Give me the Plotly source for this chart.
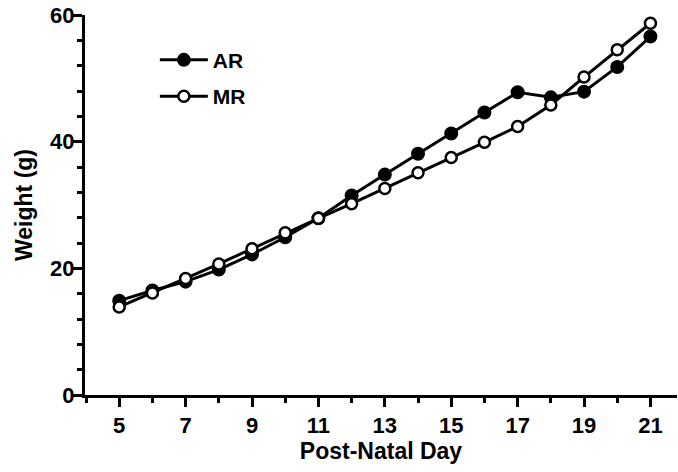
import plotly.graph_objects as go

days = list(range(5, 22))
ar_weight = [14.9, 16.5, 17.9, 19.8, 22.2, 24.9, 27.9, 31.5, 34.8, 38.1, 41.3, 44.6, 47.8, 47.0, 47.9, 51.8, 56.6]
mr_weight = [13.9, 16.1, 18.4, 20.7, 23.1, 25.6, 27.9, 30.2, 32.6, 35.1, 37.5, 39.9, 42.4, 45.8, 50.2, 54.5, 58.7]

FONT = "Arial, 'Liberation Sans', sans-serif"

fig = go.Figure()
fig.add_trace(go.Scatter(
    x=days, y=ar_weight, name="AR", mode="lines+markers", legendgroup="ar",
    line=dict(color="black", width=3),
    marker=dict(symbol="circle", size=12, color="black", line=dict(color="black", width=2)),
    cliponaxis=False,
))
fig.add_trace(go.Scatter(
    x=days, y=mr_weight, name="MR", mode="lines+markers", legendgroup="mr",
    line=dict(color="black", width=3),
    marker=dict(symbol="circle", size=11, color="white", line=dict(color="black", width=2.5)),
    cliponaxis=False,
))

fig.update_layout(
    width=678, height=472,
    margin=dict(l=85, r=1, t=15, b=77),
    paper_bgcolor="white", plot_bgcolor="white",
    font=dict(family=FONT, size=22, color="black", weight="bold"),
    showlegend=True,
    legend=dict(
        x=0.118, y=0.935, xanchor="left", yanchor="top",
        bgcolor="rgba(0,0,0,0)", itemwidth=48, traceorder="grouped",
        font=dict(family=FONT, size=21, color="black", weight="bold"),
        tracegroupgap=6,
    ),
    xaxis=dict(
        range=[3.97, 21.8], tickmode="linear", tick0=5, dtick=2,
        showgrid=False, zeroline=False,
        showline=True, linecolor="black", linewidth=3,
        ticks="outside", ticklen=9, tickwidth=3, tickcolor="black",
        tickfont=dict(family=FONT, size=22, color="black", weight="bold"),
        minor=dict(dtick=1, tick0=5, ticks="outside", ticklen=5, tickwidth=3, tickcolor="black", showgrid=False),
        title=dict(text="Post-Natal Day", font=dict(family=FONT, size=23, color="black", weight="bold"), standoff=6),
    ),
    yaxis=dict(
        range=[0, 60], tickmode="linear", tick0=0, dtick=20,
        showgrid=False, zeroline=False,
        showline=True, linecolor="black", linewidth=3,
        ticks="outside", ticklen=9, tickwidth=3, tickcolor="black",
        ticklabelstandoff=-6,
        tickfont=dict(family=FONT, size=22, color="black", weight="bold"),
        minor=dict(dtick=4, tick0=0, ticks="outside", ticklen=5, tickwidth=3, tickcolor="black", showgrid=False),
        title=dict(text="Weight (g)", font=dict(family=FONT, size=23, color="black", weight="bold"), standoff=12),
    ),
)

fig.write_html("out.html")
